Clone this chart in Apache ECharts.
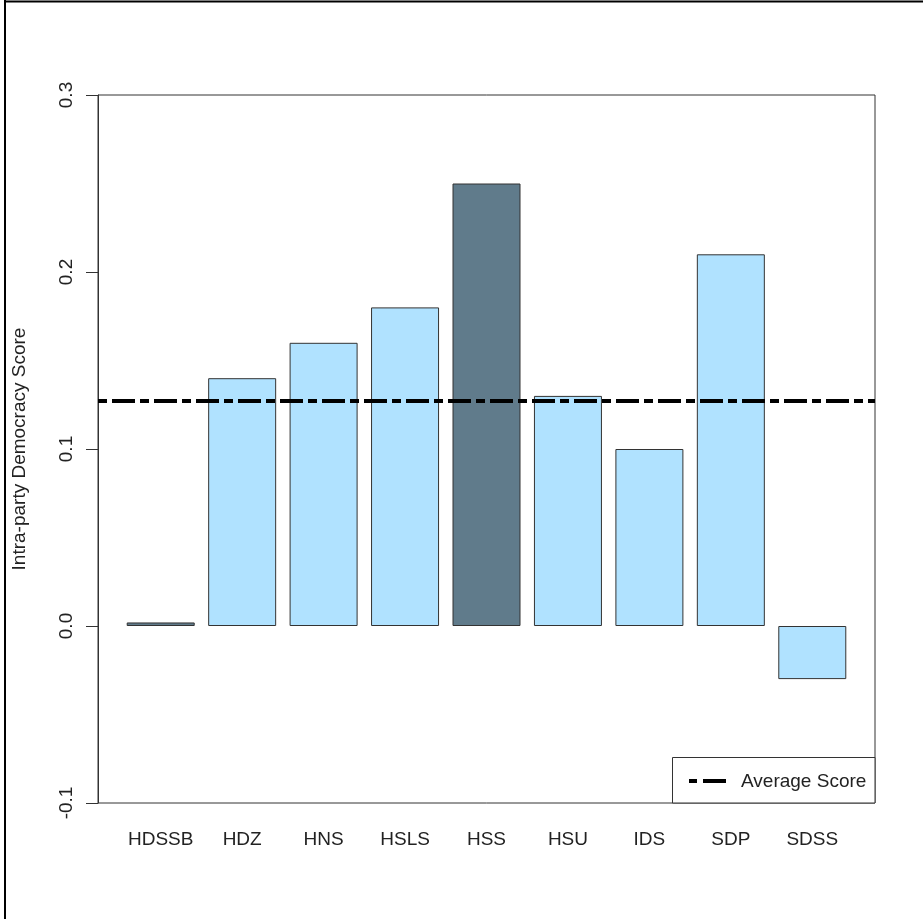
<!DOCTYPE html>
<html>
<head>
<meta charset="utf-8">
<script src="https://cdn.jsdelivr.net/npm/echarts@6/dist/echarts.min.js"></script>
<style>
  html, body { margin: 0; padding: 0; background: #fff; }
  #chart { width: 923px; height: 919px; }
</style>
</head>
<body>
<div id="chart"></div>
<script>
// ---- data ----
var categories = ['HDSSB', 'HDZ', 'HNS', 'HSLS', 'HSS', 'HSU', 'IDS', 'SDP', 'SDSS'];
var scores = [0.002, 0.14, 0.16, 0.18, 0.25, 0.13, 0.10, 0.21, -0.03];
var averageScore = [0.127];
var yTicks = [-0.1, 0.0, 0.1, 0.2, 0.3];
var legendLabels = ['Average Score'];
var yTitle = 'Intra-party Democracy Score';

// ---- styles ----
var LIGHT = '#B0E2FF', DARK = '#607B8B';
var barColors = [DARK, LIGHT, LIGHT, LIGHT, DARK, LIGHT, LIGHT, LIGHT, LIGHT];
var FONT = 'Liberation Sans, Arial, sans-serif';
var DASH = [9, 5, 23, 5];

// R barplot layout: width 1, space 0.2 → bar centre at 0.7 + 1.2*i
function centre(i) { return 0.7 + 1.2 * i; }
var centres = categories.map(function (c, i) { return centre(i); });
var xMin = -0.224, xMax = 0.2 + 1.2 * categories.length + 0.224;

var chart = echarts.init(document.getElementById('chart'), null, { renderer: 'canvas' });

var option = {
  backgroundColor: '#ffffff',
  animation: false,
  grid: {
    left: 98, top: 95, right: 48, bottom: 116,
    show: true, borderColor: '#333', borderWidth: 1, backgroundColor: 'transparent'
  },
  xAxis: {
    type: 'value',
    min: xMin, max: xMax,
    axisLine: { show: false },
    axisTick: { show: false },
    splitLine: { show: false },
    axisLabel: {
      customValues: centres,
      margin: 27,
      fontFamily: FONT, fontSize: 19, color: '#222',
      formatter: function (v) {
        var i = Math.round((v - 0.7) / 1.2);
        return categories[i] || '';
      }
    }
  },
  yAxis: {
    type: 'value',
    position: 'left',
    min: yTicks[0], max: yTicks[yTicks.length - 1], interval: 0.1,
    name: yTitle,
    nameLocation: 'middle',
    nameRotate: 90,
    nameGap: 69,
    nameTextStyle: { fontFamily: FONT, fontSize: 19, color: '#222' },
    axisLine: { show: true, onZero: false, lineStyle: { color: '#333', width: 1 } },
    axisTick: { show: true, inside: false, length: 12, lineStyle: { color: '#333', width: 1 } },
    splitLine: { show: false },
    axisLabel: {
      rotate: 90,
      margin: 22,
      fontFamily: FONT, fontSize: 19, color: '#222',
      formatter: function (v) { return (Math.round(v * 10) / 10).toFixed(1); }
    }
  },
  series: [{
    type: 'bar',
    barWidth: 68,
    data: scores.map(function (v, i) {
      return { value: [centres[i], v], itemStyle: { color: barColors[i] } };
    }),
    itemStyle: { borderColor: '#333', borderWidth: 1 },
    markLine: {
      silent: true,
      symbol: ['none', 'none'],
      label: { show: false },
      lineStyle: { color: '#000', width: 4, type: DASH },
      data: [[{ coord: [xMin, averageScore[0]] }, { coord: [xMax, averageScore[0]] }]]
    }
  }],
  graphic: [
    // outer frame (top and left edges)
    { type: 'line', shape: { x1: 4, y1: 1.5, x2: 923, y2: 1.5 }, style: { stroke: '#000', lineWidth: 2 } },
    { type: 'line', shape: { x1: 5, y1: 0, x2: 5, y2: 919 }, style: { stroke: '#000', lineWidth: 2 } },
    // legend box
    { type: 'rect', shape: { x: 672.5, y: 757.5, width: 202.5, height: 45.5 },
      style: { fill: '#fff', stroke: '#333', lineWidth: 1 }, z: 10 },
    { type: 'line', shape: { x1: 689, y1: 781, x2: 697, y2: 781 },
      style: { stroke: '#000', lineWidth: 4 }, z: 11 },
    { type: 'line', shape: { x1: 703, y1: 781, x2: 726, y2: 781 },
      style: { stroke: '#000', lineWidth: 4 }, z: 11 },
    { type: 'text', x: 741, y: 782, z: 11,
      style: { text: legendLabels[0], fill: '#222', font: '19px ' + FONT, textVerticalAlign: 'middle', verticalAlign: 'middle' } }
  ]
};
chart.setOption(option);
</script>
</body>
</html>
